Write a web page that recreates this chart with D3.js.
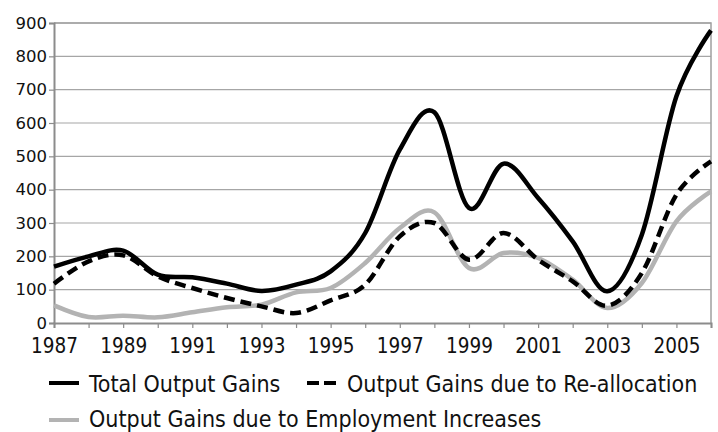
<!DOCTYPE html>
<html>
<head>
<meta charset="utf-8">
<script src="https://cdn.jsdelivr.net/npm/d3@7"></script>
<style>
  body { margin: 0; background: #fff; }
  svg { display: block; }
</style>
</head>
<body>
<div id="chart"></div>
<script>
var years = d3.range(1987, 2007);
var totalGains = [169, 200, 217, 145, 137, 118, 96, 115, 155, 270, 520, 632, 345, 478, 375, 245, 95, 265, 680, 878];
var reallocGains = [118, 185, 203, 140, 105, 75, 50, 30, 68, 115, 260, 300, 190, 270, 190, 125, 52, 150, 385, 485];
var employGains = [53, 18, 22, 17, 32, 47, 55, 92, 105, 180, 285, 332, 165, 210, 195, 130, 45, 120, 305, 395];
var yTicks = [0, 100, 200, 300, 400, 500, 600, 700, 800, 900];
var xLabelYears = d3.range(1987, 2006, 2);

var seriesList = [
  {name: "Total Output Gains", values: totalGains, color: "#000", dash: null},
  {name: "Output Gains due to Re-allocation", values: reallocGains, color: "#000", dash: "11,6"},
  {name: "Output Gains due to Employment Increases", values: employGains, color: "#b3b3b3", dash: null}
];

var W = 718, H = 432;
var margin = {top: 23, right: 7, bottom: 109, left: 54};
var width = W - margin.left - margin.right,
    height = H - margin.top - margin.bottom;

var condensed = "'DejaVu Sans Condensed', 'DejaVu Sans', sans-serif";

var svg = d3.select("#chart").append("svg")
  .attr("width", W).attr("height", H);

var g = svg.append("g")
  .attr("transform", "translate(" + margin.left + "," + margin.top + ")");

var x = d3.scaleLinear().domain([1987, 2006]).range([0, width]);
var y = d3.scaleLinear().domain([0, 900]).range([height, 0]);

// gridlines
g.selectAll(".grid")
  .data(yTicks.slice(1))
  .enter().append("line")
    .attr("x1", 0).attr("x2", width)
    .attr("y1", function (d) { return y(d); })
    .attr("y2", function (d) { return y(d); })
    .attr("stroke", "#a6a6a6")
    .attr("stroke-width", 1.2);

// border top/right
g.append("path")
  .attr("d", "M0,0H" + width + "V" + height)
  .attr("fill", "none")
  .attr("stroke", "#a0a0a0")
  .attr("stroke-width", 1.5);

// y axis
var yAxis = g.append("g")
  .call(d3.axisLeft(y).tickValues(yTicks).tickSize(5).tickPadding(2));
yAxis.select(".domain").attr("stroke", "#8c8c8c").attr("stroke-width", 2);
yAxis.selectAll(".tick line").attr("stroke", "#8c8c8c").attr("stroke-width", 1.2);
yAxis.selectAll("text")
  .style("font-family", "'DejaVu Sans', Verdana, sans-serif")
  .style("font-size", "16.5px")
  .attr("fill", "#111");

// x axis
var xAxis = g.append("g")
  .attr("transform", "translate(0," + height + ")")
  .call(d3.axisBottom(x).tickValues(years).tickSize(5).tickPadding(10)
    .tickFormat(function (d) { return xLabelYears.indexOf(d) >= 0 ? d : ""; }));
xAxis.select(".domain").attr("stroke", "#8c8c8c").attr("stroke-width", 2);
xAxis.selectAll(".tick line").attr("stroke", "#8c8c8c").attr("stroke-width", 1.2);
xAxis.selectAll("text")
  .style("font-family", condensed)
  .style("font-size", "20.5px")
  .attr("fill", "#111");

// lines
var line = d3.line()
  .x(function (d, i) { return x(years[i]); })
  .y(function (d) { return y(d); })
  .curve(d3.curveCardinal.tension(0));

// grey first, then dashed, then total on top
[seriesList[2], seriesList[1], seriesList[0]].forEach(function (s) {
  g.append("path")
    .datum(s.values)
    .attr("d", line)
    .attr("fill", "none")
    .attr("stroke", s.color)
    .attr("stroke-width", 4.5)
    .attr("stroke-dasharray", s.dash);
});

// legend
var legendPos = [
  {x: 49, y: 383, ty: 392},
  {x: 307, y: 383, ty: 392},
  {x: 49, y: 420, ty: 427}
];
seriesList.forEach(function (s, i) {
  var p = legendPos[i];
  svg.append("line")
    .attr("x1", p.x).attr("x2", p.x + (s.dash ? 33 : 30))
    .attr("y1", p.y).attr("y2", p.y)
    .attr("stroke", s.color)
    .attr("stroke-width", 4)
    .attr("stroke-dasharray", s.dash ? "12,5" : null);
  svg.append("text")
    .attr("x", p.x + (s.dash ? 40 : 40))
    .attr("y", p.ty)
    .style("font-family", condensed)
    .style("font-size", "23px")
    .attr("fill", "#111")
    .text(s.name);
});
</script>
</body>
</html>
